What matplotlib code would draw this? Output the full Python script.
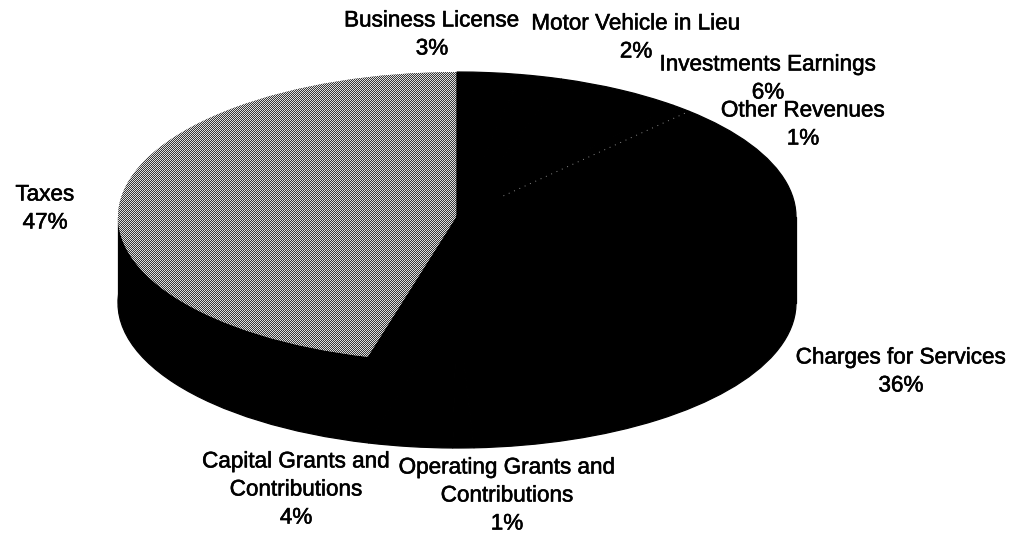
import numpy as np
import matplotlib
matplotlib.use("Agg")
import matplotlib.pyplot as plt
import matplotlib.patheffects as pe

W, H = 1021, 534

# Clockwise from 12 o'clock
categories = ["Business License", "Motor Vehicle in Lieu", "Investments Earnings",
              "Other Revenues", "Charges for Services",
              "Operating Grants and\nContributions",
              "Capital Grants and\nContributions", "Taxes"]
percent_labels = [3, 2, 6, 1, 36, 1, 4, 47]
# Angular extent as seen in the picture (the tilted 3-D view reads a little
# off the printed percentages for the last boundaries)
drawn_shares = [3, 2, 6, 1, 37.2, 1, 4, 45.8]
slice_colors = ["black"] * 7 + ["#9c9c9c"]

label_centers_px = [(432, 35), (636, 38), (768, 79), (803, 125),
                    (901, 372), (507, 496), (296, 490), (45, 209)]

cx, cy, rx, ry, depth = 457, 217, 339, 145, 86

fig = plt.figure(figsize=(W / 100, H / 100), dpi=100, facecolor="white")
ax = fig.add_axes([0, 0, 1, 1])


def draw_pie(center, colors):
    wedge_list = ax.pie(drawn_shares, colors=colors, startangle=90, counterclock=False,
                        center=center, radius=1, frame=False)[0]
    for wedge, color in zip(wedge_list, colors):
        # Same-coloured edge closes the hairline seams between black slices
        wedge.set_edgecolor(color)
        wedge.set_linewidth(0.9 if color == "black" else 0)
    return wedge_list


# Side wall: lower disc plus the band joining it to the top disc
draw_pie((0, -depth / ry), ["black"] * len(drawn_shares))
xs = np.linspace(-1, 1, 200)
ax.fill_between(xs, -depth / ry, 0, color="black", linewidth=0.9, edgecolor="black")

# Top face
wedges = draw_pie((0, 0), slice_colors)
for w in wedges[:-1]:
    w.set_zorder(3)
wedges[-1].set_zorder(2.5)

ax.set_aspect("auto")
xlim = (-cx / rx, (W - cx) / rx)
ylim = (-(H - cy) / ry, cy / ry)

# Halftone of the scanned Taxes slice
yy, xx = np.indices((H, W))
checker = ((xx + yy) % 2).astype(float)
img = ax.imshow(checker, extent=(*xlim, *ylim), origin="lower", aspect="auto",
                cmap="gray", vmin=-0.35, vmax=1.2, interpolation="nearest", zorder=2.6)
img.set_clip_path(wedges[-1])

# Faint boundary visible in the black area
boundary = 2 * np.pi * sum(drawn_shares[:4]) / sum(drawn_shares)
rr = np.array([0.2, 1.0])
ax.plot(rr * np.sin(boundary), rr * np.cos(boundary), color="#8a8a8a", lw=0.7,
        ls=(0, (1, 5)), zorder=5)

ax.set_xlim(*xlim)
ax.set_ylim(*ylim)
ax.axis("off")

for name, pct, (px, py) in zip(categories, percent_labels, label_centers_px):
    fig.text(px / W, 1 - py / H, f"{name}\n{pct}%", ha="center", va="center",
             family="Liberation Sans", fontsize=16.2, color="black", linespacing=1.44,
             path_effects=[pe.withStroke(linewidth=0.4, foreground="black")])

fig.savefig("out.png", dpi=100)
